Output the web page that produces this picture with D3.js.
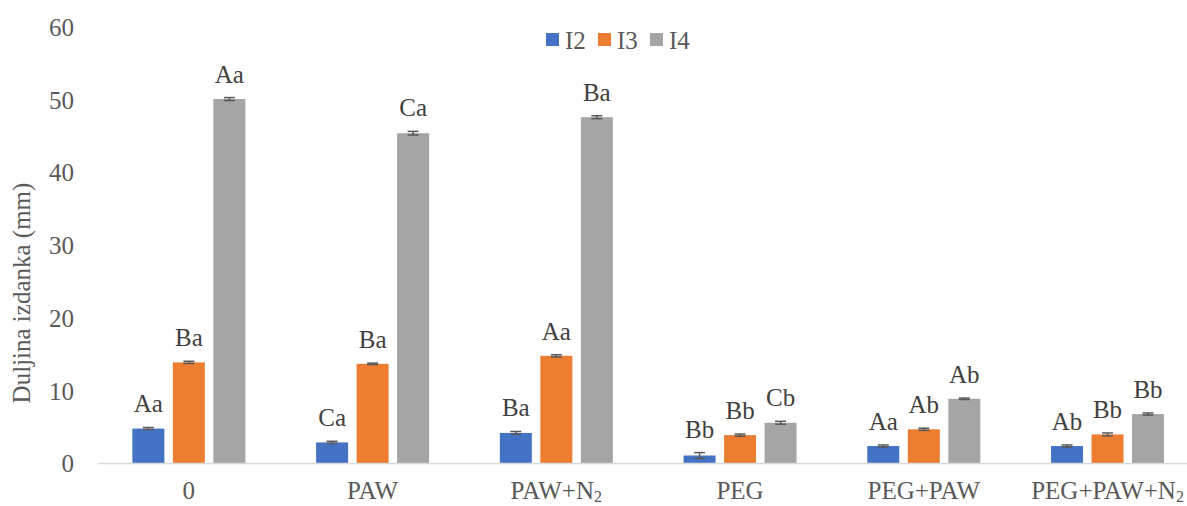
<!DOCTYPE html>
<html>
<head>
<meta charset="utf-8">
<script src="https://cdn.jsdelivr.net/npm/d3@7/dist/d3.min.js"></script>
<style>
  html, body { margin: 0; padding: 0; background: #fff; }
  svg { display: block; }
  svg text { font-family: "Liberation Serif", "Times New Roman", "DejaVu Serif", serif; }
</style>
</head>
<body>
<div id="chart"></div>
<script>
const categories = ["0", "PAW", "PAW+N2", "PEG", "PEG+PAW", "PEG+PAW+N2"];
const seriesNames = ["I2", "I3", "I4"];
const i2Values = [4.8, 2.9, 4.2, 1.1, 2.4, 2.4];
const i3Values = [13.9, 13.7, 14.8, 3.9, 4.7, 4.0];
const i4Values = [50.1, 45.4, 47.6, 5.6, 8.9, 6.8];
const i2Errors = [0.15, 0.15, 0.2, 0.4, 0.15, 0.15];
const i3Errors = [0.15, 0.1, 0.15, 0.15, 0.15, 0.2];
const i4Errors = [0.2, 0.25, 0.2, 0.2, 0.1, 0.15];
const i2Letters = ["Aa", "Ca", "Ba", "Bb", "Aa", "Ab"];
const i3Letters = ["Ba", "Ba", "Aa", "Bb", "Ab", "Bb"];
const i4Letters = ["Aa", "Ca", "Ba", "Cb", "Ab", "Bb"];
const yTicks = [0, 10, 20, 30, 40, 50, 60];
const yTitle = "Duljina izdanka (mm)";

const colors = {I2: "#4472C4", I3: "#ED7D31", I4: "#A5A5A5"};
const valuesBySeries = {I2: i2Values, I3: i3Values, I4: i4Values};
const errorsBySeries = {I2: i2Errors, I3: i3Errors, I4: i4Errors};
const lettersBySeries = {I2: i2Letters, I3: i3Letters, I4: i4Letters};

const W = 1187, H = 506;

const svg = d3.select("#chart").append("svg")
  .attr("width", W).attr("height", H);

const y = d3.scaleLinear().domain([0, 60]).range([463.5, 27]);
const x0 = d3.scaleBand().domain(categories).range([97, 1199.4])
  .paddingInner(0.385).paddingOuter(0.1925);
const x1 = d3.scaleBand().domain(seriesNames).range([0, x0.bandwidth()])
  .paddingInner(0.21).paddingOuter(0);

// y tick labels (no gridlines)
svg.append("g").selectAll("text").data(yTicks).join("text")
  .attr("x", 74).attr("y", d => y(d))
  .attr("dy", "0.35em")
  .attr("text-anchor", "end")
  .attr("fill", "#595959")
  .style("font-size", "25px")
  .text(d => d);

// y title
svg.append("text")
  .attr("transform", `translate(30,293) rotate(-90)`)
  .attr("text-anchor", "middle")
  .attr("fill", "#595959")
  .style("font-size", "25px")
  .text(yTitle);

// bars
const data = [];
categories.forEach((c, i) => {
  seriesNames.forEach(s => {
    data.push({cat: c, s, v: valuesBySeries[s][i], e: errorsBySeries[s][i], l: lettersBySeries[s][i]});
  });
});

const g = svg.append("g");
g.selectAll("rect").data(data).join("rect")
  .attr("x", d => x0(d.cat) + x1(d.s))
  .attr("y", d => y(d.v))
  .attr("width", x1.bandwidth())
  .attr("height", d => y(0) - y(d.v))
  .attr("fill", d => colors[d.s]);

// x axis line
svg.append("line")
  .attr("x1", 98).attr("x2", W)
  .attr("y1", y(0)).attr("y2", y(0))
  .attr("stroke", "#d9d9d9").attr("stroke-width", 1.5);

// error bars
const eb = svg.append("g").attr("stroke", "#595959").attr("stroke-width", 1.5);
data.forEach(d => {
  const cx = x0(d.cat) + x1(d.s) + x1.bandwidth() / 2;
  const yt = y(d.v + d.e), yb = y(d.v - d.e);
  eb.append("line").attr("x1", cx).attr("x2", cx).attr("y1", yt).attr("y2", yb);
  eb.append("line").attr("x1", cx - 5.5).attr("x2", cx + 5.5).attr("y1", yt).attr("y2", yt);
  eb.append("line").attr("x1", cx - 5.5).attr("x2", cx + 5.5).attr("y1", yb).attr("y2", yb);
});

// letter labels
svg.append("g").selectAll("text").data(data).join("text")
  .attr("x", d => x0(d.cat) + x1(d.s) + x1.bandwidth() / 2)
  .attr("y", d => y(d.v + d.e) - 15)
  .attr("text-anchor", "middle")
  .attr("fill", "#404040")
  .style("font-size", "25px")
  .text(d => d.l);

// x labels (N2 with subscript 2)
svg.append("g").selectAll("text").data(categories).join("text")
  .attr("x", d => x0(d) + x0.bandwidth() / 2)
  .attr("y", 499)
  .attr("text-anchor", "middle")
  .attr("fill", "#595959")
  .style("font-size", "25px")
  .each(function(d) {
    const t = d3.select(this);
    if (d.endsWith("N2")) {
      t.append("tspan").text(d.slice(0, -1));
      t.append("tspan").attr("dy", 3).style("font-size", "16px").text("2");
    } else {
      t.text(d);
    }
  });

// legend
const legendX = [546, 598, 650];
const lg = svg.append("g");
seriesNames.forEach((s, i) => {
  lg.append("rect").attr("x", legendX[i]).attr("y", 33).attr("width", 13).attr("height", 13)
    .attr("fill", colors[s]);
  lg.append("text").attr("x", legendX[i] + 19).attr("y", 40).attr("dy", "0.35em")
    .attr("fill", "#595959").style("font-size", "25px").text(s);
});
</script>
</body>
</html>
